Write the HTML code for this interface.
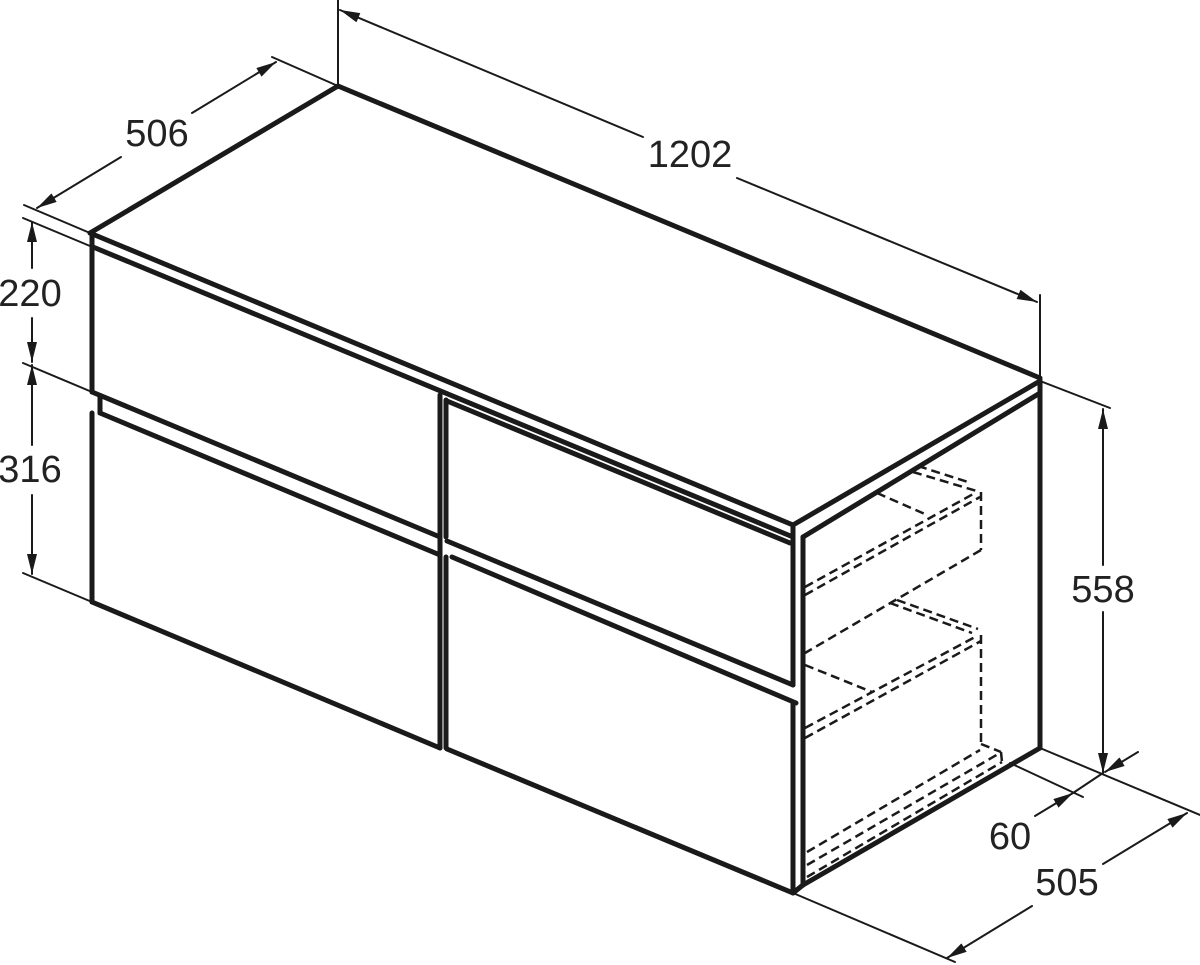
<!DOCTYPE html>
<html><head><meta charset="utf-8"><style>
html,body{margin:0;padding:0;background:#fff;}
svg{display:block;}
text{font-family:"Liberation Sans",Arial,sans-serif;font-size:38px;fill:#222;}
</style></head><body>
<svg width="1200" height="965" viewBox="0 0 1200 965" xmlns="http://www.w3.org/2000/svg">
<defs>
<marker id="a" viewBox="0 0 20 10" refX="20" refY="5" markerWidth="20" markerHeight="10" markerUnits="userSpaceOnUse" orient="auto"><path d="M0,0 L20,5 L0,10 Z" fill="#1a1a1a"/></marker>
</defs>
<g stroke="#1a1a1a" fill="none" stroke-linecap="round">
<g stroke-width="5">
<line x1="90" y1="233" x2="338" y2="86"/>
<line x1="338" y1="86" x2="1040" y2="378"/>
<line x1="90" y1="233" x2="793" y2="525"/>
<line x1="793" y1="525" x2="1040" y2="381"/>
<line x1="93" y1="247" x2="793" y2="537"/>
<line x1="803" y1="537" x2="1040" y2="393"/>
<line x1="92" y1="236" x2="92" y2="392"/>
<line x1="92" y1="413" x2="92" y2="602"/>
<line x1="100" y1="396" x2="100" y2="413"/>
<line x1="92" y1="392" x2="440" y2="537"/>
<line x1="100" y1="413" x2="440" y2="555"/>
<line x1="92" y1="602" x2="440" y2="748"/>
<line x1="447" y1="749" x2="793" y2="893"/>
<line x1="440" y1="395" x2="440" y2="748"/>
<line x1="446" y1="400" x2="446" y2="537"/>
<line x1="446" y1="557" x2="446" y2="748"/>
<line x1="447" y1="401" x2="790" y2="543"/>
<line x1="447" y1="541" x2="793" y2="685"/>
<line x1="452" y1="557" x2="796" y2="703"/>
<line x1="793" y1="527" x2="793" y2="685"/>
<line x1="793" y1="703" x2="793" y2="893"/>
<line x1="803" y1="537" x2="803" y2="885"/>
<line x1="1040" y1="380" x2="1040" y2="748"/>
<line x1="803" y1="885" x2="1040" y2="748"/>
<line x1="793" y1="893" x2="803" y2="885"/>
</g>
<g stroke-width="2.5" stroke-dasharray="9,5" stroke-linecap="butt">
<line x1="913" y1="472" x2="980" y2="492"/>
<line x1="918" y1="466" x2="968" y2="482"/>
<line x1="877" y1="493" x2="927" y2="515"/>
<line x1="805" y1="587" x2="975" y2="493"/>
<line x1="805" y1="595" x2="980" y2="497"/>
<line x1="981" y1="492" x2="981" y2="550"/>
<line x1="981" y1="550" x2="805" y2="653"/>
<line x1="890" y1="603" x2="972" y2="633"/>
<line x1="897" y1="600" x2="978" y2="629"/>
<line x1="805" y1="665" x2="872" y2="692"/>
<line x1="805" y1="728" x2="977" y2="636"/>
<line x1="805" y1="738" x2="981" y2="641"/>
<line x1="981" y1="635" x2="981" y2="744"/>
<line x1="981" y1="744" x2="1001" y2="752"/>
<line x1="1001" y1="752" x2="1002" y2="762"/>
<line x1="807" y1="852" x2="980" y2="750"/>
<line x1="807" y1="865" x2="1000" y2="753"/>
<line x1="807" y1="877" x2="1002" y2="762"/>
</g>
<g stroke-width="2">
<line x1="338" y1="0" x2="338" y2="84"/>
<line x1="1040" y1="295" x2="1040" y2="376"/>
<line x1="643" y1="137" x2="340" y2="10" marker-end="url(#a)"/>
<line x1="737" y1="178" x2="1037" y2="302" marker-end="url(#a)"/>
<line x1="272" y1="57" x2="338" y2="86"/>
<line x1="24" y1="205" x2="90" y2="233"/>
<line x1="121" y1="157" x2="37" y2="208" marker-end="url(#a)"/>
<line x1="192" y1="113" x2="276" y2="62" marker-end="url(#a)"/>
<line x1="23" y1="218" x2="90" y2="246"/>
<line x1="23" y1="363" x2="92" y2="392"/>
<line x1="23" y1="573" x2="92" y2="602"/>
<line x1="32" y1="268" x2="32" y2="222" marker-end="url(#a)"/>
<line x1="32" y1="318" x2="32" y2="362" marker-end="url(#a)"/>
<line x1="32" y1="445" x2="32" y2="365" marker-end="url(#a)"/>
<line x1="32" y1="495" x2="32" y2="574" marker-end="url(#a)"/>
<line x1="1040" y1="381" x2="1110" y2="408"/>
<line x1="1103" y1="565" x2="1103" y2="409" marker-end="url(#a)"/>
<line x1="1103" y1="612" x2="1103" y2="773" marker-end="url(#a)"/>
<line x1="1040" y1="748" x2="1200" y2="815"/>
<line x1="1010" y1="763" x2="1083" y2="797"/>
<line x1="793" y1="893" x2="955" y2="962"/>
<line x1="1035" y1="816" x2="1073" y2="793" marker-end="url(#a)"/>
<line x1="1073" y1="793" x2="1103" y2="773"/>
<line x1="1138" y1="752" x2="1105" y2="772" marker-end="url(#a)"/>
<line x1="1103" y1="864" x2="1187" y2="813" marker-end="url(#a)"/>
<line x1="1032" y1="906" x2="947" y2="958" marker-end="url(#a)"/>
</g>
</g>
<text x="690" y="167" text-anchor="middle">1202</text>
<text x="157" y="146" text-anchor="middle">506</text>
<text x="30" y="306" text-anchor="middle">220</text>
<text x="30" y="482" text-anchor="middle">316</text>
<text x="1103" y="602" text-anchor="middle">558</text>
<text x="1010" y="849" text-anchor="middle">60</text>
<text x="1067" y="895" text-anchor="middle">505</text>
</svg>
</body></html>
